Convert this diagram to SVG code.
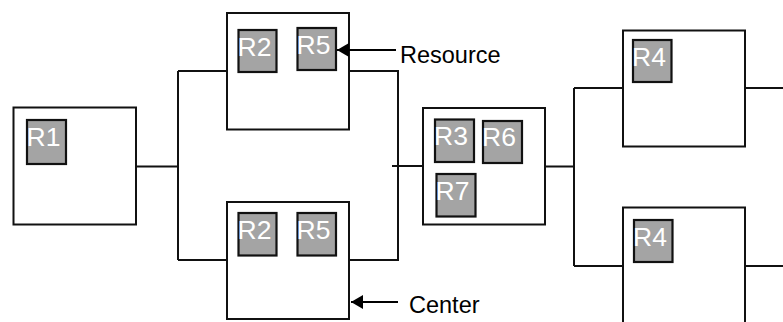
<svg xmlns="http://www.w3.org/2000/svg" width="783" height="322" viewBox="0 0 783 322">
  <style>
    .center { fill: #ffffff; stroke: #111111; stroke-width: 2; }
    .res { fill: #a4a4a4; stroke: #111111; stroke-width: 2.2; }
    .rlabel { font-family: "Liberation Sans", Arial, sans-serif; font-size: 26.5px; fill: #ffffff; }
    .note { font-family: "Liberation Sans", Arial, sans-serif; font-size: 23.5px; fill: #000000; }
    .wire { fill: none; stroke: #111111; stroke-width: 2; }
    .pointer { fill: none; stroke: #000000; stroke-width: 2; marker-end: url(#head); }
  </style>
  <defs>
    <marker id="head" viewBox="0 0 12 14" refX="12" refY="7" markerWidth="12" markerHeight="14" markerUnits="userSpaceOnUse" orient="auto">
      <path d="M0,0 L12,7 L0,14 Z" fill="#000000"/>
    </marker>
  </defs>
  <rect width="783" height="322" fill="#ffffff"/>

  <!-- connectors -->
  <g id="connectors">
    <path class="wire" d="M137 166.5 H178 M178 71 V260 M178 71 H227 M178 260 H227"/>
    <path class="wire" d="M349 71 H398 V260 H349 M392 166 H423"/>
    <path class="wire" d="M545 166.5 H574 M574 88 V266 M574 88 H623 M574 266 H623"/>
    <path class="wire" d="M745 88 H783 M745 266 H783"/>
  </g>

  <!-- centers -->
  <g id="center-1">
    <rect class="center" x="13.5" y="107.5" width="122.5" height="117"/>
    <rect class="res" x="27" y="120" width="39" height="44"/>
    <text class="rlabel" x="26.5" y="146">R1</text>
  </g>

  <g id="center-2a">
    <rect class="center" x="227" y="13" width="122" height="116.5"/>
    <rect class="res" x="238.5" y="30" width="38" height="42"/>
    <text class="rlabel" x="237.5" y="55.5">R2</text>
    <rect class="res" x="297.5" y="28" width="38.5" height="42"/>
    <text class="rlabel" x="296.5" y="53.5">R5</text>
  </g>

  <g id="center-2b">
    <rect class="center" x="227" y="202" width="122" height="117"/>
    <rect class="res" x="238.5" y="213" width="38" height="42.5"/>
    <text class="rlabel" x="237.5" y="238.5">R2</text>
    <rect class="res" x="297.5" y="213" width="38.5" height="42.5"/>
    <text class="rlabel" x="296.5" y="238.5">R5</text>
  </g>

  <g id="center-3">
    <rect class="center" x="423" y="108" width="122" height="116.5"/>
    <rect class="res" x="435" y="119.5" width="39" height="42.5"/>
    <text class="rlabel" x="434" y="145">R3</text>
    <rect class="res" x="483" y="121" width="39" height="42"/>
    <text class="rlabel" x="482" y="146">R6</text>
    <rect class="res" x="436.5" y="174" width="39" height="42.5"/>
    <text class="rlabel" x="435.5" y="199.5">R7</text>
  </g>

  <g id="center-4a">
    <rect class="center" x="623" y="30.5" width="122" height="116"/>
    <rect class="res" x="633" y="40" width="38.5" height="42"/>
    <text class="rlabel" x="632" y="65.5">R4</text>
  </g>

  <g id="center-4b">
    <rect class="center" x="623" y="207.5" width="122" height="130"/>
    <rect class="res" x="634" y="220" width="38.5" height="42"/>
    <text class="rlabel" x="633" y="245.5">R4</text>
  </g>

  <!-- callouts -->
  <g id="callout-resource">
    <path class="pointer" d="M396 50 H337"/>
    <text class="note" x="400" y="63">Resource</text>
  </g>
  <g id="callout-center">
    <path class="pointer" d="M398 302 H351"/>
    <text class="note" x="409" y="313">Center</text>
  </g>
</svg>
